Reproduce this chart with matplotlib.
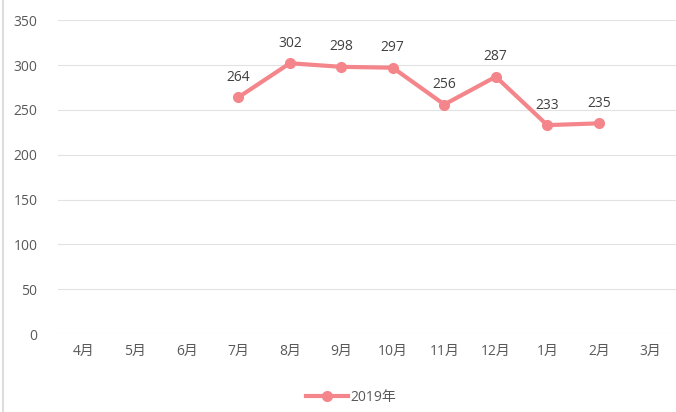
import matplotlib.pyplot as plt
from matplotlib.lines import Line2D

plt.rcParams['font.family'] = ['Open Sans', 'Noto Sans CJK JP', 'DejaVu Sans']

months = ["4月", "5月", "6月", "7月", "8月", "9月", "10月", "11月", "12月", "1月", "2月", "3月"]
value_months = ["7月", "8月", "9月", "10月", "11月", "12月", "1月", "2月"]
values_2019 = [264, 302, 298, 297, 256, 287, 233, 235]
y_ticks = [0, 50, 100, 150, 200, 250, 300, 350]

LINE_COLOR = "#F4868B"
TEXT_COLOR = "#595959"

fig = plt.figure(figsize=(6.76, 4.12), dpi=100)
ax = fig.add_axes([0.086, 0.189, 0.914, 0.762])

x_idx = [months.index(m) for m in value_months]
ax.plot(x_idx, values_2019, color=LINE_COLOR, linewidth=3, marker="o",
        markersize=7, label="2019年", solid_capstyle="round")

for x, v in zip(x_idx, values_2019):
    ax.annotate(str(v), (x, v), xytext=(0, 9), textcoords="offset points",
                ha="center", va="bottom", fontsize=10, color="#404040")

ax.set_xlim(-0.5, len(months) - 0.5)
ax.set_ylim(0, 350)
ax.set_xticks(range(len(months)))
ax.set_xticklabels(months)
ax.set_yticks(y_ticks)
ax.tick_params(axis="both", length=0, labelsize=10, colors=TEXT_COLOR)
ax.tick_params(axis="x", pad=7)
ax.tick_params(axis="y", pad=15)
ax.grid(axis="y", color="#E2E2E2", linewidth=0.8)
ax.set_axisbelow(True)
for s in ax.spines.values():
    s.set_visible(False)

fig.legend(handles=[Line2D([], [], color=LINE_COLOR, linewidth=3, marker="o", markersize=7)],
           labels=["2019年"], loc="center", bbox_to_anchor=(0.52, 0.035),
           frameon=False, fontsize=10, labelcolor=TEXT_COLOR, handlelength=3,
           handletextpad=0.2)

fig.add_artist(Line2D([0.005, 0.005], [0, 1], color="#DDDDDD", linewidth=1.5))

fig.savefig("out.png", dpi=100)
